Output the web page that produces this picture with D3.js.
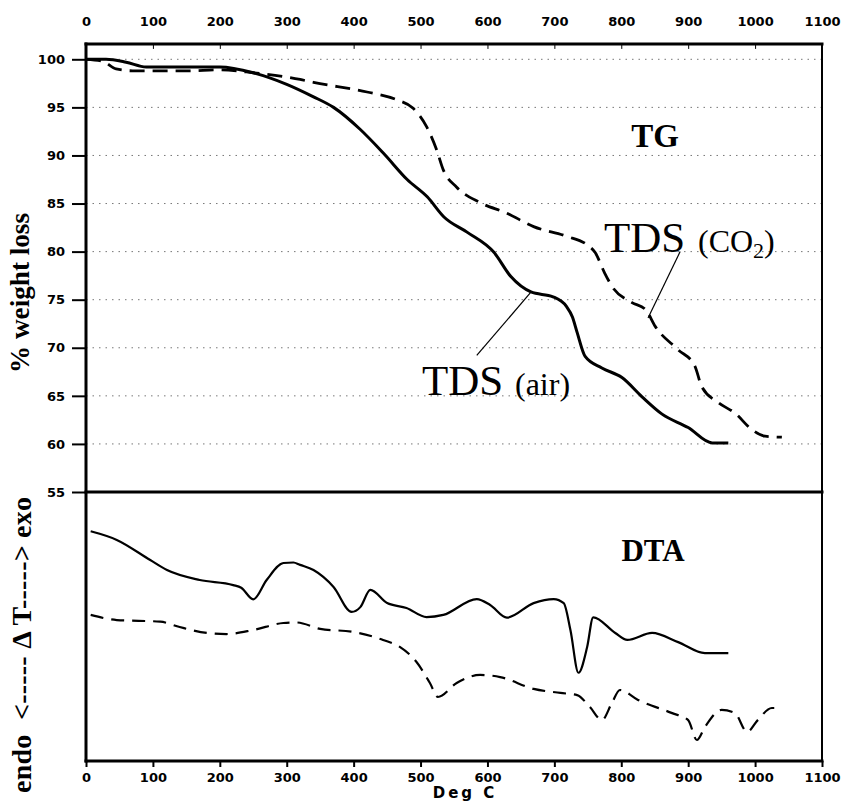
<!DOCTYPE html>
<html>
<head>
<meta charset="utf-8">
<script src="https://cdn.jsdelivr.net/npm/d3@7"></script>
<style>
  body { margin: 0; background: #fff; }
  svg { display: block; }
</style>
</head>
<body>
<svg id="chart" width="845" height="801"></svg>
<script>
// temperature ticks (deg C) and weight-loss ticks
const tempTicks = [0, 100, 200, 300, 400, 500, 600, 700, 800, 900, 1000, 1100];
const weightTicks = [55, 60, 65, 70, 75, 80, 85, 90, 95, 100];
const gridLevels = [60, 65, 70, 75, 80, 85, 90, 95, 100];

// TG, air atmosphere (solid)
const tgAirT = [0, 30, 60, 90, 150, 200, 250, 300, 340, 370, 410, 445, 480, 510, 535, 570, 610, 635, 665, 698, 718, 727, 734, 746, 771, 801, 831, 861, 900, 936, 960];
const tgAirW = [100, 100, 99.7, 99.2, 99.2, 99.2, 98.6, 97.4, 96.1, 95.0, 92.7, 90.2, 87.5, 85.7, 83.6, 82.0, 79.9, 77.4, 75.8, 75.3, 74.3, 73.2, 71.6, 69.1, 67.9, 66.9, 64.9, 63.1, 61.7, 60.1, 60.1];

// TG, CO2 atmosphere (dashed)
const tgCo2T = [0, 25, 45, 70, 150, 200, 250, 320, 340, 420, 464, 489, 509, 524, 534, 554, 589, 629, 669, 718, 749, 761, 775, 786, 816, 836, 851, 885, 910, 920, 945, 970, 995, 1015, 1040];
const tgCo2W = [100, 99.8, 99.0, 98.8, 98.8, 98.9, 98.6, 97.9, 97.6, 96.6, 95.8, 94.9, 93.0, 90.6, 88.5, 86.7, 85.1, 84.0, 82.6, 81.6, 80.7, 79.9, 77.8, 76.4, 74.7, 74.0, 72.2, 69.8, 68.1, 66.0, 64.3, 63.2, 61.5, 60.8, 60.7];

// DTA signal, arbitrary units 0..100 (solid = air)
const dtaAirT = [7, 46, 96, 121, 170, 220, 232, 250, 270, 295, 310, 320, 340, 370, 397, 410, 425, 450, 479, 509, 534, 584, 604, 629, 669, 699, 714, 724, 736, 749, 758, 791, 809, 846, 885, 925, 960];
const dtaAirV = [85.4, 82.2, 74.7, 71.0, 67.3, 65.4, 64.4, 60.1, 67.3, 73.6, 73.8, 72.9, 71.0, 64.7, 55.4, 57.2, 63.6, 58.7, 56.9, 53.5, 54.3, 60.2, 58.0, 53.3, 58.7, 60.2, 58.7, 48.7, 32.8, 42.4, 53.4, 47.6, 45.0, 47.6, 44.2, 40.1, 40.1];

// DTA signal, CO2 (dashed)
const dtaCo2T = [7, 46, 111, 140, 181, 210, 250, 295, 315, 350, 399, 444, 469, 494, 514, 526, 554, 589, 619, 669, 709, 734, 753, 771, 786, 798, 825, 876, 900, 913, 925, 950, 970, 988, 1004, 1025, 1040];
const dtaCo2V = [54.3, 52.4, 51.8, 49.8, 47.6, 47.2, 48.7, 51.3, 51.5, 49.1, 48.0, 45.0, 42.4, 36.8, 29.0, 23.8, 29.0, 32.0, 31.2, 26.8, 25.3, 24.5, 20.1, 15.2, 21.6, 26.4, 22.7, 17.8, 15.2, 7.8, 12.6, 19.0, 17.8, 10.8, 15.2, 19.7, 19.7];

// leader lines for the TDS labels: [T0, w0, T1, w1]
const leaderCo2 = [888, 80.0, 840, 73.1];
const leaderAir = [664, 75.7, 584, 69.2];

const svg = d3.select('#chart');

const x = d3.scaleLinear().domain([0, 1100]).range([86, 822]);
const yTG = d3.scaleLinear().domain([55, 100]).range([492, 59.3]);
const yDTA = d3.scaleLinear().domain([0, 100]).range([761, 492]);

const frameTop = yTG(101.6);

// dotted grid in the TG panel
svg.append('g')
    .selectAll('line')
    .data(gridLevels)
    .join('line')
    .attr('x1', x(0))
    .attr('x2', x(1100))
    .attr('y1', d => yTG(d))
    .attr('y2', d => yTG(d))
    .attr('stroke', '#777')
    .attr('stroke-width', 1)
    .attr('stroke-dasharray', '1.5,5');

// axes
const tickFont = '"DejaVu Sans", sans-serif';

const leftAxis = svg.append('g')
    .attr('transform', `translate(${x(0)},0)`)
    .call(d3.axisLeft(yTG).tickValues(weightTicks).tickSize(14).tickPadding(7).tickFormat(d3.format('d')));

const bottomAxis = svg.append('g')
    .attr('transform', `translate(0,${yDTA(0)})`)
    .call(d3.axisBottom(x).tickValues(tempTicks).tickSize(6).tickPadding(6).tickFormat(d3.format('d')));

const topAxis = svg.append('g')
    .attr('transform', `translate(0,${frameTop})`)
    .call(d3.axisTop(x).tickValues(tempTicks).tickSizeInner(-5).tickSizeOuter(0).tickPadding(18).tickFormat(d3.format('d')));

[leftAxis, bottomAxis, topAxis].forEach(g => {
    g.select('.domain').remove();
    g.selectAll('text')
        .attr('font-family', tickFont)
        .attr('font-weight', 'bold')
        .attr('font-size', 13)
        .attr('fill', '#000');
    g.selectAll('line').attr('stroke', '#000').attr('stroke-width', 2);
});
topAxis.selectAll('line').attr('stroke-width', 1);

// frame
function frameLine(x1, y1, x2, y2, w) {
    svg.append('line')
        .attr('x1', x1).attr('y1', y1)
        .attr('x2', x2).attr('y2', y2)
        .attr('stroke', '#000')
        .attr('stroke-width', w)
        .attr('stroke-linecap', 'square');
}
frameLine(x(0), frameTop, x(1100), frameTop, 3);
frameLine(x(0), frameTop, x(0), yDTA(0), 3);
frameLine(x(1100), frameTop, x(1100), yDTA(0), 2);
frameLine(x(0), yTG(55), x(1100), yTG(55), 3);
frameLine(x(0), yDTA(0), x(1100), yDTA(0), 3);

// curves
function drawCurve(ts, vs, yScale, width, dash) {
    const pts = ts.map((t, i) => [t, vs[i]]);
    const line = d3.line()
        .x(d => x(d[0]))
        .y(d => yScale(d[1]))
        .curve(d3.curveMonotoneX);
    svg.append('path')
        .attr('d', line(pts))
        .attr('fill', 'none')
        .attr('stroke', '#000')
        .attr('stroke-width', width)
        .attr('stroke-linejoin', 'round')
        .attr('stroke-dasharray', dash);
}

drawCurve(tgCo2T, tgCo2W, yTG, 2.8, '15,8');
drawCurve(tgAirT, tgAirW, yTG, 3, null);
drawCurve(dtaAirT, dtaAirV, yDTA, 2.2, null);
drawCurve(dtaCo2T, dtaCo2V, yDTA, 2.2, '13,8');

// leader lines
[leaderCo2, leaderAir].forEach(l => {
    svg.append('line')
        .attr('x1', x(l[0])).attr('y1', yTG(l[1]))
        .attr('x2', x(l[2])).attr('y2', yTG(l[3]))
        .attr('stroke', '#000')
        .attr('stroke-width', 1.2);
});

// labels
const serif = '"Liberation Serif", "Times New Roman", serif';

svg.append('text')
    .attr('x', 655).attr('y', 147)
    .attr('text-anchor', 'middle')
    .attr('font-family', serif)
    .attr('font-weight', 'bold')
    .attr('font-size', 33)
    .text('TG');

svg.append('text')
    .attr('x', 653).attr('y', 561)
    .attr('text-anchor', 'middle')
    .attr('font-family', serif)
    .attr('font-weight', 'bold')
    .attr('font-size', 31)
    .text('DTA');

const co2 = svg.append('text')
    .attr('x', 604).attr('y', 252)
    .attr('font-family', serif);
co2.append('tspan').attr('font-size', 43).text('TDS');
co2.append('tspan').attr('x', 698).attr('font-size', 32).text('(CO');
co2.append('tspan').attr('font-size', 22).attr('dy', 6).text('2');
co2.append('tspan').attr('font-size', 32).attr('dy', -6).text(')');

const air = svg.append('text')
    .attr('x', 422).attr('y', 395)
    .attr('font-family', serif);
air.append('tspan').attr('font-size', 43).text('TDS');
air.append('tspan').attr('x', 515).attr('font-size', 32).text('(air)');

svg.append('text')
    .attr('transform', 'translate(29,293) rotate(-90)')
    .attr('text-anchor', 'middle')
    .attr('font-family', serif)
    .attr('font-weight', 'bold')
    .attr('font-size', 27)
    .attr('textLength', 160)
    .attr('lengthAdjust', 'spacingAndGlyphs')
    .text('% weight loss');

svg.append('text')
    .attr('transform', 'translate(31,645) rotate(-90)')
    .attr('text-anchor', 'middle')
    .attr('font-family', serif)
    .attr('font-weight', 'bold')
    .attr('font-size', 28)
    .attr('textLength', 296)
    .attr('lengthAdjust', 'spacing')
    .attr('xml:space', 'preserve')
    .text('endo  <----- \u0394 T-----> exo');

svg.append('text')
    .attr('x', 465).attr('y', 798)
    .attr('text-anchor', 'middle')
    .attr('font-family', tickFont)
    .attr('font-weight', 'bold')
    .attr('font-size', 15)
    .attr('letter-spacing', 3)
    .text('Deg C');
</script>
</body>
</html>
